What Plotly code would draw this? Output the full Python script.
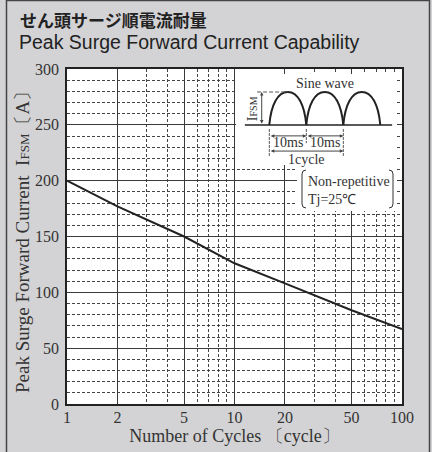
import plotly.graph_objects as go

# ---- data ----
cycles = [1, 2, 5, 10, 20, 50, 100]
ifsm = [200, 177, 150, 126, 108, 84, 67]
x_major = [1, 2, 5, 10, 20, 50, 100]
x_minor = [3, 4, 6, 7, 8, 9, 30, 40, 60, 70, 80, 90]
x_ticktext = ["1", "2", "5", "10", "20", "50", "100"]
y_ticks = [0, 50, 100, 150, 200, 250, 300]

W, H = 432, 452
L, R, T, B = 67, 402, 69, 404  # plot area pixels


def px(x):
    return (x - L) / (R - L)


def py(y):
    return (B - y) / (B - T)


BG = "#d3d3d5"
INK = "#222222"
SERIF = "Liberation Serif, Times New Roman, serif"

fig = go.Figure()
fig.add_trace(go.Scatter(x=cycles, y=ifsm, mode="lines",
                         line=dict(color=INK, width=2), hoverinfo="skip",
                         showlegend=False))
# invisible trace for inset axes
fig.add_trace(go.Scatter(x=[0], y=[0], xaxis="x2", yaxis="y2", mode="markers",
                         marker=dict(opacity=0), showlegend=False, hoverinfo="skip"))

gridc = "#3a3a3a"
fig.update_layout(
    width=W, height=H,
    paper_bgcolor=BG, plot_bgcolor="white",
    margin=dict(l=L, r=W - R, t=T, b=H - B, autoexpand=False),
    font=dict(family=SERIF, color="#333333", size=15),
    xaxis=dict(type="log", range=[0, 2], tickmode="array", tickvals=x_major,
               ticktext=x_ticktext, showgrid=True, gridcolor=gridc, gridwidth=1.3,
               showline=True, linecolor=INK, linewidth=1.5, mirror=True, automargin=False,
               ticks="", zeroline=False, tickfont=dict(size=16, family=SERIF),
               ticklabelstandoff=-2,
               minor=dict(tickmode="array", tickvals=x_minor, showgrid=True,
                          gridcolor="#444444", gridwidth=1, griddash="3px,2px", ticks=""),
               title=dict(text="Number of Cycles 〔cycle〕", font=dict(size=18, family=SERIF),
                          standoff=4)),
    yaxis=dict(range=[0, 300], tickmode="array", tickvals=y_ticks,
               showgrid=True, gridcolor=gridc, gridwidth=1.3, automargin=False,
               showline=True, linecolor=INK, linewidth=1.5, mirror=True,
               ticks="", zeroline=False, tickfont=dict(size=16, family=SERIF),
               ticklabelstandoff=3,
               minor=dict(dtick=10, showgrid=True, gridcolor="#444444", gridwidth=1,
                          griddash="3px,2px", ticks="")),
    xaxis2=dict(domain=[px(239.7), px(395.1)], range=[-8, 34], anchor="y2",
                visible=False, fixedrange=True),
    yaxis2=dict(domain=[py(165), py(75)], range=[-1.212, 1.515], anchor="x2",
                visible=False, fixedrange=True),
)

shapes = []
# white cover boxes for inset
shapes.append(dict(type="rect", xref="paper", yref="paper", x0=px(236), x1=px(397),
                   y0=py(165), y1=py(74), fillcolor="white", line=dict(width=0), layer="above"))
shapes.append(dict(type="rect", xref="paper", yref="paper", x0=px(297), x1=px(397),
                   y0=py(211), y1=py(164), fillcolor="white", line=dict(width=0), layer="above"))
# frame around the whole panel
shapes.append(dict(type="rect", xref="paper", yref="paper", x0=px(6.5), x1=px(429.5),
                   y0=py(460), y1=py(0.5), line=dict(color="#444444", width=1.5), layer="below"))

# inset: baseline
shapes.append(dict(type="line", xref="x2", yref="y2", x0=-6.6, x1=33.2, y0=0, y1=0,
                   line=dict(color=INK, width=1.5), layer="above"))
# arches (semi-elliptical half sine)
for s in (0, 10, 20):
    path = (f"M {s},0 C {s+0.5},0.62 {s+2.3},1 {s+5},1 "
            f"C {s+7.7},1 {s+9.5},0.62 {s+10},0")
    shapes.append(dict(type="path", xref="x2", yref="y2", path=path,
                       line=dict(color=INK, width=2), layer="above"))
# dashed peak reference line
shapes.append(dict(type="line", xref="x2", yref="y2", x0=-3.3, x1=5, y0=1, y1=1,
                   line=dict(color="#555555", width=1, dash="4px,2px"), layer="above"))
# extension lines
for xe, ye in ((0, -0.95), (10, -0.55), (20, -0.95)):
    shapes.append(dict(type="line", xref="x2", yref="y2", x0=xe, x1=xe, y0=-0.12, y1=ye,
                       line=dict(color="#555555", width=1, dash="3px,1px"), layer="above"))

# brackets around "Non-repetitive"
bx0, bx1, by0, by1 = 302, 393, 170, 208
shapes.append(dict(type="path", xref="paper", yref="paper",
                   path=(f"M {px(bx0+4)},{py(by0)} Q {px(bx0)},{py(by0)} {px(bx0)},{py(by0+4)} "
                         f"L {px(bx0)},{py(by1-4)} Q {px(bx0)},{py(by1)} {px(bx0+4)},{py(by1)}"),
                   line=dict(color="#333333", width=1), layer="above"))
shapes.append(dict(type="path", xref="paper", yref="paper",
                   path=(f"M {px(bx1-4)},{py(by0)} Q {px(bx1)},{py(by0)} {px(bx1)},{py(by0+4)} "
                         f"L {px(bx1)},{py(by1-4)} Q {px(bx1)},{py(by1)} {px(bx1-4)},{py(by1)}"),
                   line=dict(color="#333333", width=1), layer="above"))
fig.update_layout(shapes=shapes)

ann = []
# titles
ann.append(dict(text="<b>せん頭サージ順電流耐量</b>", xref="paper", yref="paper",
                x=px(18), y=py(19.5), xanchor="left", yanchor="middle", showarrow=False,
                font=dict(family="Noto Sans CJK JP", size=17, color="#222222")))
ann.append(dict(text="Peak Surge Forward Current Capability", xref="paper", yref="paper",
                x=px(17), y=py(42), xanchor="left", yanchor="middle", showarrow=False,
                font=dict(family="Liberation Sans, Arial, sans-serif", size=19.5, color="#222222")))
# y-axis title
ann.append(dict(text="Peak Surge Forward Current  I<span style='font-size:13px'>FSM</span>〔A〕",
                xref="paper", yref="paper", x=px(22), y=py(238), textangle=-90,
                xanchor="center", yanchor="middle", showarrow=False,
                font=dict(size=19, family=SERIF, color="#333333")))
# inset texts
ann.append(dict(text="Sine wave", xref="x2", yref="y2", x=15, y=1.27, showarrow=False,
                font=dict(size=14, family=SERIF, color="#333333")))
ann.append(dict(text="I<span style='font-size:10px'>FSM</span>", xref="x2", yref="y2",
                x=-4.5, y=0.5, textangle=-90, showarrow=False,
                font=dict(size=14, family=SERIF, color="#333333")))
ann.append(dict(text="10ms", xref="x2", yref="y2", x=5, y=-0.52, showarrow=False,
                font=dict(size=14, family=SERIF, color="#333333")))
ann.append(dict(text="10ms", xref="x2", yref="y2", x=15, y=-0.52, showarrow=False,
                font=dict(size=14, family=SERIF, color="#333333")))
ann.append(dict(text="1cycle", xref="x2", yref="y2", x=10, y=-1.04, showarrow=False,
                font=dict(size=14, family=SERIF, color="#333333")))
# arrows
def dim(xa, xb, yv):
    return dict(text="", xref="x2", yref="y2", axref="x2", ayref="y2",
                x=xb, y=yv, ax=xa, ay=yv, showarrow=True, arrowside="end+start",
                arrowhead=2, arrowsize=0.7, arrowwidth=1, arrowcolor="#444444")
ann.append(dim(0, 10, -0.33))
ann.append(dim(10, 20, -0.33))
ann.append(dim(0, 20, -0.79))
ann.append(dict(text="", xref="x2", yref="y2", axref="x2", ayref="y2",
                x=-2.05, y=1, ax=-2.05, ay=0, showarrow=True, arrowside="end+start",
                arrowhead=2, arrowsize=0.7, arrowwidth=1, arrowcolor="#444444"))
ann.append(dict(text="Non-repetitive<br>Tj=25℃", xref="paper", yref="paper",
                x=px(306), y=py(190), xanchor="left", yanchor="middle", align="left",
                showarrow=False, font=dict(size=14, family=SERIF, color="#333333")))
fig.update_layout(annotations=ann)

fig.write_html("out.html", config={"displayModeBar": False},
               post_script="document.body.style.margin='0';document.body.style.padding='0';"
                           "document.body.style.overflow='hidden';")
